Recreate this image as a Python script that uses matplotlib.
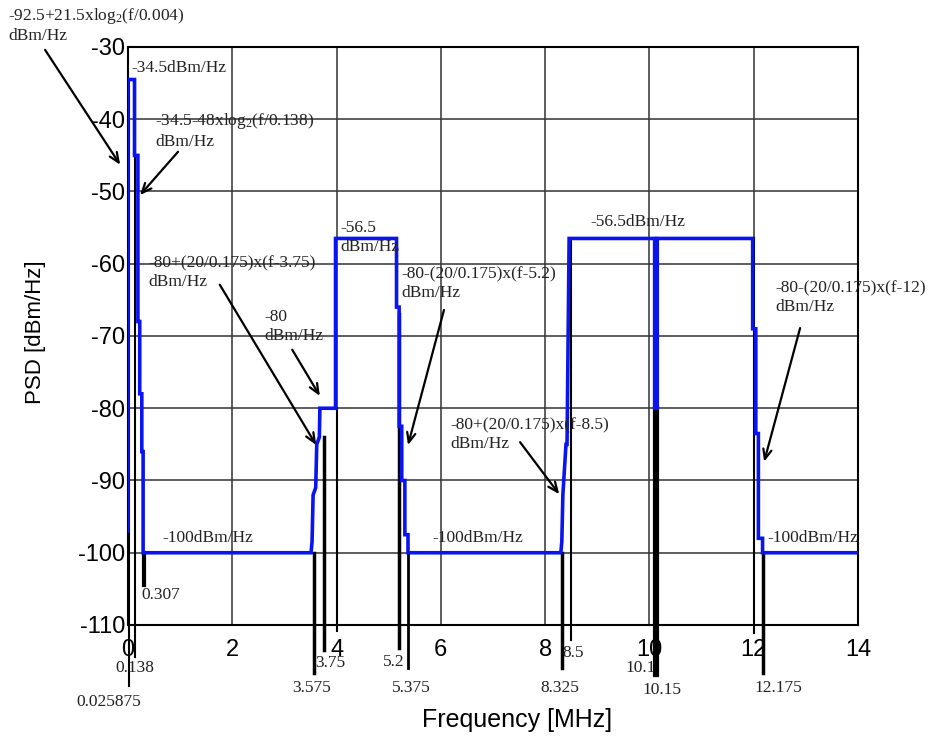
import matplotlib
matplotlib.use('Agg')
import matplotlib.pyplot as plt

plt.rcParams['font.family'] = ['Liberation Sans', 'DejaVu Sans']
plt.rcParams['axes.unicode_minus'] = False
plt.rcParams['mathtext.fontset'] = 'custom'
plt.rcParams['mathtext.rm'] = 'Liberation Serif'
plt.rcParams['mathtext.it'] = 'Liberation Serif:italic'

# PSD mask (blue)
psd_f = [0.0, 0.0, 0.125, 0.125, 0.19, 0.19, 0.225, 0.225, 0.265, 0.265, 0.29, 0.29,
         3.51, 3.53, 3.55, 3.6, 3.62, 3.67, 3.68, 3.98, 3.98,
         5.15, 5.15, 5.2, 5.2, 5.25, 5.25, 5.31, 5.31, 5.37, 5.37,
         8.30, 8.32, 8.34, 8.40, 8.42, 8.46,
         10.1, 10.1, 10.15, 10.15,
         11.98, 11.98, 12.04, 12.04, 12.09, 12.09, 12.17, 12.17, 14.0]
psd_db = [-97, -34.5, -34.5, -45, -45, -68, -68, -78, -78, -86, -86, -100,
          -100, -98.5, -92, -91, -85, -84, -80, -80, -56.5,
          -56.5, -66, -66, -82.5, -82.5, -90, -90, -97.5, -97.5, -100,
          -100, -98.5, -92, -85, -85, -56.5,
          -56.5, -80, -80, -56.5,
          -56.5, -69, -69, -83.5, -83.5, -98, -98, -100, -100]

# black frequency markers
marker_f = [0.025875, 0.138, 0.307, 3.575, 3.75, 4.0, 5.2, 5.375, 8.325, 8.5, 10.1, 10.15, 12.0, 12.175]
marker_top = [-34.5, -34.5, -100, -100, -84, -80, -67, -100, -100, -56.5, -80, -80, -56.5, -100]
marker_bottom = [-118.5, -114.4, -104.5, -116.6, -113.5, -110.9, -113.2, -116, -116, -112.1, -116.9, -116.9, -111.1, -116.6]
marker_lw = [1.5, 1.5, 3, 2.5, 2.5, 1.5, 2.5, 2, 2.5, 1.5, 3, 3, 1.5, 2.5]

marker_text = ['0.025875', '0.138', '0.307', '3.575', '3.75', '5.2', '5.375', '8.325', '8.5', '10.1', '10.15', '12.175']
marker_text_x = [-0.374, 0.125, 0.633, 3.53, 3.88, 5.09, 5.44, 8.29, 8.53, 9.84, 10.25, 12.47]
marker_text_y = [-120.66, -115.95, -105.85, -118.7, -115.26, -115.1, -118.7, -118.7, -113.9, -115.95, -119.0, -118.7]

# formula notes
notes = ['-92.5+21.5xlog$_2$(f/0.004)\ndBm/Hz',
         '-34.5-48xlog$_2$(f/0.138)\ndBm/Hz',
         '-56.5\ndBm/Hz',
         '-80+(20/0.175)x(f-3.75)\ndBm/Hz',
         '-80\ndBm/Hz',
         '-80-(20/0.175)x(f-5.2)\ndBm/Hz',
         '-80+(20/0.175)x(f-8.5)\ndBm/Hz',
         '-80-(20/0.175)x(f-12)\ndBm/Hz']
notes_x = [-2.30, 0.518, 4.07, 0.40, 2.61, 5.24, 6.18, 12.41]
notes_y = [-24.3, -38.9, -54.0, -58.9, -66.3, -60.4, -81.2, -62.3]

levels = ['-34.5dBm/Hz', '-56.5dBm/Hz', '-100dBm/Hz', '-100dBm/Hz', '-100dBm/Hz']
levels_x = [0.058, 8.86, 0.65, 5.83, 12.27]
levels_y = [-32.9, -54.2, -98.0, -98.0, -98.0]

# arrows: start -> end
arrow_start = [(-1.59, -30.4), (0.96, -44.5), (1.76, -62.9), (3.15, -71.9), (6.06, -66.4), (7.52, -84.7), (12.89, -68.9)]
arrow_end = [(-0.15, -46.3), (0.23, -50.5), (3.61, -85.1), (3.68, -78.3), (5.37, -85.1), (8.27, -91.9), (12.20, -87.4)]

x_ticks = [0, 2, 4, 6, 8, 10, 12, 14]
y_ticks = [-110, -100, -90, -80, -70, -60, -50, -40, -30]

serif = ['Liberation Serif', 'DejaVu Serif']
txt_col = '#222222'
fs = 12.5

fig = plt.figure(figsize=(9.36, 7.4), dpi=100)
ax = fig.add_axes([0.13675, 0.15541, 0.7799, 0.78108])

ax.set_xlim(0, 14)
ax.set_ylim(-110, -30)
ax.set_xticks(x_ticks)
ax.set_yticks(y_ticks)
ax.tick_params(length=0, labelsize=17)
ax.tick_params(axis='x', pad=10)
ax.tick_params(axis='y', pad=2)
ax.grid(True, color='#333333', lw=1.1)
for s in ax.spines.values():
    s.set_linewidth(1.5)
    s.set_color('black')

for f, t, b, lw in zip(marker_f, marker_top, marker_bottom, marker_lw):
    ax.plot([f, f], [t, b], color='black', lw=lw, clip_on=False, zorder=3)

ax.plot(psd_f, psd_db, color='#0a14f0', lw=2.6, zorder=4, solid_joinstyle='miter')

for s, x, y in zip(marker_text, marker_text_x, marker_text_y):
    ax.text(x, y, s, family=serif, fontsize=fs, color=txt_col, ha='center', va='center')

for s, x, y in zip(notes, notes_x, notes_y):
    ax.text(x, y, s, family=serif, fontsize=fs, color=txt_col, ha='left', va='top',
            linespacing=1.22, zorder=5)

for s, x, y in zip(levels, levels_x, levels_y):
    ax.text(x, y, s, family=serif, fontsize=fs, color=txt_col, ha='left', va='center', zorder=5)

for a, b in zip(arrow_start, arrow_end):
    ax.annotate('', xy=b, xytext=a, annotation_clip=False,
                arrowprops=dict(arrowstyle='->,head_length=0.7,head_width=0.3',
                                color='black', lw=1.6, shrinkA=0, shrinkB=0))

fig.text(517 / 936, 1 - 720 / 740, 'Frequency [MHz]', fontsize=18, ha='center', va='center')
fig.text(35 / 936, 1 - 332 / 740, 'PSD [dBm/Hz]', fontsize=16, ha='center', va='center', rotation=90)

fig.savefig('out.png', dpi=100)
